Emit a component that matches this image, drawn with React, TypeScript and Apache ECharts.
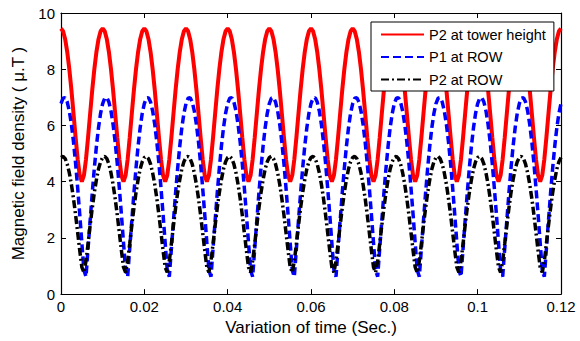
import React, { useEffect, useRef } from "react";
import * as echarts from "echarts";

// sampling grid of the time axis (seconds), one sample every 0.0005 s
const time: number[] = Array.from({ length: 241 }, (_, i) => Number((i * 0.0005).toFixed(4)));

const seriesNames = ["P2 at tower height", "P1 at ROW", "P2 at ROW"];

// P2 at tower height (µT)
const p2Tower: number[] = [
  9.45, 9.35, 9.07, 8.61, 8.0, 7.26, 6.43, 5.58, 4.8, 4.22, 4.0, 4.22, 4.8, 5.58, 6.43, 7.26, 8.0, 8.61, 9.07, 9.35,
  9.45, 9.35, 9.07, 8.61, 8.0, 7.26, 6.43, 5.58, 4.8, 4.22, 4.0, 4.22, 4.8, 5.58, 6.43, 7.26, 8.0, 8.61, 9.07, 9.35,
  9.45, 9.35, 9.07, 8.61, 8.0, 7.26, 6.43, 5.58, 4.8, 4.22, 4.0, 4.22, 4.8, 5.58, 6.43, 7.26, 8.0, 8.61, 9.07, 9.35,
  9.45, 9.35, 9.07, 8.61, 8.0, 7.26, 6.43, 5.58, 4.8, 4.22, 4.0, 4.22, 4.8, 5.58, 6.43, 7.26, 8.0, 8.61, 9.07, 9.35,
  9.45, 9.35, 9.07, 8.61, 8.0, 7.26, 6.43, 5.58, 4.8, 4.22, 4.0, 4.22, 4.8, 5.58, 6.43, 7.26, 8.0, 8.61, 9.07, 9.35,
  9.45, 9.35, 9.07, 8.61, 8.0, 7.26, 6.43, 5.58, 4.8, 4.22, 4.0, 4.22, 4.8, 5.58, 6.43, 7.26, 8.0, 8.61, 9.07, 9.35,
  9.45, 9.35, 9.07, 8.61, 8.0, 7.26, 6.43, 5.58, 4.8, 4.22, 4.0, 4.22, 4.8, 5.58, 6.43, 7.26, 8.0, 8.61, 9.07, 9.35,
  9.45, 9.35, 9.07, 8.61, 8.0, 7.26, 6.43, 5.58, 4.8, 4.22, 4.0, 4.22, 4.8, 5.58, 6.43, 7.26, 8.0, 8.61, 9.07, 9.35,
  9.45, 9.35, 9.07, 8.61, 8.0, 7.26, 6.43, 5.58, 4.8, 4.22, 4.0, 4.22, 4.8, 5.58, 6.43, 7.26, 8.0, 8.61, 9.07, 9.35,
  9.45, 9.35, 9.07, 8.61, 8.0, 7.26, 6.43, 5.58, 4.8, 4.22, 4.0, 4.22, 4.8, 5.58, 6.43, 7.26, 8.0, 8.61, 9.07, 9.35,
  9.45, 9.35, 9.07, 8.61, 8.0, 7.26, 6.43, 5.58, 4.8, 4.22, 4.0, 4.22, 4.8, 5.58, 6.43, 7.26, 8.0, 8.61, 9.07, 9.35,
  9.45, 9.35, 9.07, 8.61, 8.0, 7.26, 6.43, 5.58, 4.8, 4.22, 4.0, 4.22, 4.8, 5.58, 6.43, 7.26, 8.0, 8.61, 9.07, 9.35,
  9.45,
];

// P1 at ROW (µT)
const p1Row: number[] = [
  6.78, 6.97, 6.99, 6.83, 6.51, 6.03, 5.41, 4.65, 3.78, 2.83, 1.83, 0.85, 0.62, 1.63, 2.63, 3.6, 4.48, 5.26, 5.92, 6.43,
  6.78, 6.97, 6.99, 6.83, 6.51, 6.03, 5.41, 4.65, 3.78, 2.83, 1.83, 0.85, 0.62, 1.63, 2.63, 3.6, 4.48, 5.26, 5.92, 6.43,
  6.78, 6.97, 6.99, 6.83, 6.51, 6.03, 5.41, 4.65, 3.78, 2.83, 1.83, 0.85, 0.62, 1.63, 2.63, 3.6, 4.48, 5.26, 5.92, 6.43,
  6.78, 6.97, 6.99, 6.83, 6.51, 6.03, 5.41, 4.65, 3.78, 2.83, 1.83, 0.85, 0.62, 1.63, 2.63, 3.6, 4.48, 5.26, 5.92, 6.43,
  6.78, 6.97, 6.99, 6.83, 6.51, 6.03, 5.41, 4.65, 3.78, 2.83, 1.83, 0.85, 0.62, 1.63, 2.63, 3.6, 4.48, 5.26, 5.92, 6.43,
  6.78, 6.97, 6.99, 6.83, 6.51, 6.03, 5.41, 4.65, 3.78, 2.83, 1.83, 0.85, 0.62, 1.63, 2.63, 3.6, 4.48, 5.26, 5.92, 6.43,
  6.78, 6.97, 6.99, 6.83, 6.51, 6.03, 5.41, 4.65, 3.78, 2.83, 1.83, 0.85, 0.62, 1.63, 2.63, 3.6, 4.48, 5.26, 5.92, 6.43,
  6.78, 6.97, 6.99, 6.83, 6.51, 6.03, 5.41, 4.65, 3.78, 2.83, 1.83, 0.85, 0.62, 1.63, 2.63, 3.6, 4.48, 5.26, 5.92, 6.43,
  6.78, 6.97, 6.99, 6.83, 6.51, 6.03, 5.41, 4.65, 3.78, 2.83, 1.83, 0.85, 0.62, 1.63, 2.63, 3.6, 4.48, 5.26, 5.92, 6.43,
  6.78, 6.97, 6.99, 6.83, 6.51, 6.03, 5.41, 4.65, 3.78, 2.83, 1.83, 0.85, 0.62, 1.63, 2.63, 3.6, 4.48, 5.26, 5.92, 6.43,
  6.78, 6.97, 6.99, 6.83, 6.51, 6.03, 5.41, 4.65, 3.78, 2.83, 1.83, 0.85, 0.62, 1.63, 2.63, 3.6, 4.48, 5.26, 5.92, 6.43,
  6.78, 6.97, 6.99, 6.83, 6.51, 6.03, 5.41, 4.65, 3.78, 2.83, 1.83, 0.85, 0.62, 1.63, 2.63, 3.6, 4.48, 5.26, 5.92, 6.43,
  6.78,
];

// P2 at ROW (µT)
const p2Row: number[] = [
  4.86, 4.9, 4.82, 4.62, 4.31, 3.9, 3.4, 2.82, 2.19, 1.55, 0.96, 0.77, 1.18, 1.8, 2.45, 3.06, 3.61, 4.07, 4.45, 4.71,
  4.86, 4.9, 4.82, 4.62, 4.31, 3.9, 3.4, 2.82, 2.19, 1.55, 0.96, 0.77, 1.18, 1.8, 2.45, 3.06, 3.61, 4.07, 4.45, 4.71,
  4.86, 4.9, 4.82, 4.62, 4.31, 3.9, 3.4, 2.82, 2.19, 1.55, 0.96, 0.77, 1.18, 1.8, 2.45, 3.06, 3.61, 4.07, 4.45, 4.71,
  4.86, 4.9, 4.82, 4.62, 4.31, 3.9, 3.4, 2.82, 2.19, 1.55, 0.96, 0.77, 1.18, 1.8, 2.45, 3.06, 3.61, 4.07, 4.45, 4.71,
  4.86, 4.9, 4.82, 4.62, 4.31, 3.9, 3.4, 2.82, 2.19, 1.55, 0.96, 0.77, 1.18, 1.8, 2.45, 3.06, 3.61, 4.07, 4.45, 4.71,
  4.86, 4.9, 4.82, 4.62, 4.31, 3.9, 3.4, 2.82, 2.19, 1.55, 0.96, 0.77, 1.18, 1.8, 2.45, 3.06, 3.61, 4.07, 4.45, 4.71,
  4.86, 4.9, 4.82, 4.62, 4.31, 3.9, 3.4, 2.82, 2.19, 1.55, 0.96, 0.77, 1.18, 1.8, 2.45, 3.06, 3.61, 4.07, 4.45, 4.71,
  4.86, 4.9, 4.82, 4.62, 4.31, 3.9, 3.4, 2.82, 2.19, 1.55, 0.96, 0.77, 1.18, 1.8, 2.45, 3.06, 3.61, 4.07, 4.45, 4.71,
  4.86, 4.9, 4.82, 4.62, 4.31, 3.9, 3.4, 2.82, 2.19, 1.55, 0.96, 0.77, 1.18, 1.8, 2.45, 3.06, 3.61, 4.07, 4.45, 4.71,
  4.86, 4.9, 4.82, 4.62, 4.31, 3.9, 3.4, 2.82, 2.19, 1.55, 0.96, 0.77, 1.18, 1.8, 2.45, 3.06, 3.61, 4.07, 4.45, 4.71,
  4.86, 4.9, 4.82, 4.62, 4.31, 3.9, 3.4, 2.82, 2.19, 1.55, 0.96, 0.77, 1.18, 1.8, 2.45, 3.06, 3.61, 4.07, 4.45, 4.71,
  4.86, 4.9, 4.82, 4.62, 4.31, 3.9, 3.4, 2.82, 2.19, 1.55, 0.96, 0.77, 1.18, 1.8, 2.45, 3.06, 3.61, 4.07, 4.45, 4.71,
  4.86,
];

const FONT = 'Arial, "Liberation Sans", sans-serif';

export default function App() {
  const ref = useRef<HTMLDivElement>(null);

  useEffect(() => {
    if (!ref.current) return;
    const chart = echarts.init(ref.current, undefined, { renderer: "svg" });

    const axisLine = { show: true, onZero: false, lineStyle: { color: "#000", width: 1.2 } };
    const axisTick = { show: true, inside: true, length: 5, lineStyle: { color: "#000", width: 1 } };

    const pairs = (vals: number[]) => time.map((t, i) => [t, vals[i]]);

    chart.setOption({
      animation: false,
      backgroundColor: "#fff",
      textStyle: { fontFamily: FONT },
      grid: { left: 61, right: 19, top: 13, bottom: 44, containLabel: false },
      legend: {
        left: 371,
        top: 22,
        orient: "vertical",
        backgroundColor: "#fff",
        borderColor: "#000",
        borderWidth: 1,
        borderRadius: 0,
        padding: [5, 8, 4, 9],
        itemGap: 7.5,
        itemWidth: 43,
        itemHeight: 14,
        itemStyle: { color: "transparent", borderColor: "transparent", borderWidth: 0, opacity: 0 },
        textStyle: { fontSize: 14.5, color: "#000", fontFamily: FONT },
        data: seriesNames,
      },
      xAxis: [
        {
          type: "value",
          min: 0,
          max: 0.12,
          interval: 0.02,
          position: "bottom",
          axisLine,
          axisTick,
          splitLine: { show: false },
          axisLabel: { color: "#000", fontSize: 15, margin: 5, fontFamily: FONT },
          name: "Variation of time (Sec.)",
          nameLocation: "middle",
          nameGap: 21,
          nameTextStyle: { color: "#000", fontSize: 17, fontFamily: FONT },
        },
        {
          type: "value",
          min: 0,
          max: 0.12,
          interval: 0.02,
          position: "top",
          axisLine,
          axisTick,
          splitLine: { show: false },
          axisLabel: { show: false },
        },
      ],
      yAxis: [
        {
          type: "value",
          min: 0,
          max: 10,
          interval: 2,
          position: "left",
          axisLine,
          axisTick,
          splitLine: { show: false },
          axisLabel: { color: "#000", fontSize: 15, margin: 6, fontFamily: FONT },
          name: "Magnetic field density ( μ.T )",
          nameLocation: "middle",
          nameGap: 27,
          nameTextStyle: { color: "#000", fontSize: 17, fontFamily: FONT },
        },
        {
          type: "value",
          min: 0,
          max: 10,
          interval: 2,
          position: "right",
          axisLine,
          axisTick,
          splitLine: { show: false },
          axisLabel: { show: false },
        },
      ],
      series: [
        {
          name: seriesNames[0],
          type: "line",
          data: pairs(p2Tower),
          symbol: "none",
          lineStyle: { color: "#ff0000", width: 4, type: "solid" },
          itemStyle: { color: "#ff0000" },
        },
        {
          name: seriesNames[1],
          type: "line",
          data: pairs(p1Row),
          symbol: "none",
          lineStyle: { color: "#0000ff", width: 3.5, type: [8, 4], cap: "butt" },
          itemStyle: { color: "#0000ff" },
        },
        {
          name: seriesNames[2],
          type: "line",
          data: pairs(p2Row),
          symbol: "none",
          lineStyle: { color: "#000000", width: 3.5, type: [8, 3, 2, 3], cap: "butt" },
          itemStyle: { color: "#000000" },
        },
      ],
    });

    return () => chart.dispose();
  }, []);

  return (
    <div
      ref={ref}
      style={{ position: "fixed", left: 0, top: 0, width: 580, height: 341, background: "#fff" }}
    />
  );
}
